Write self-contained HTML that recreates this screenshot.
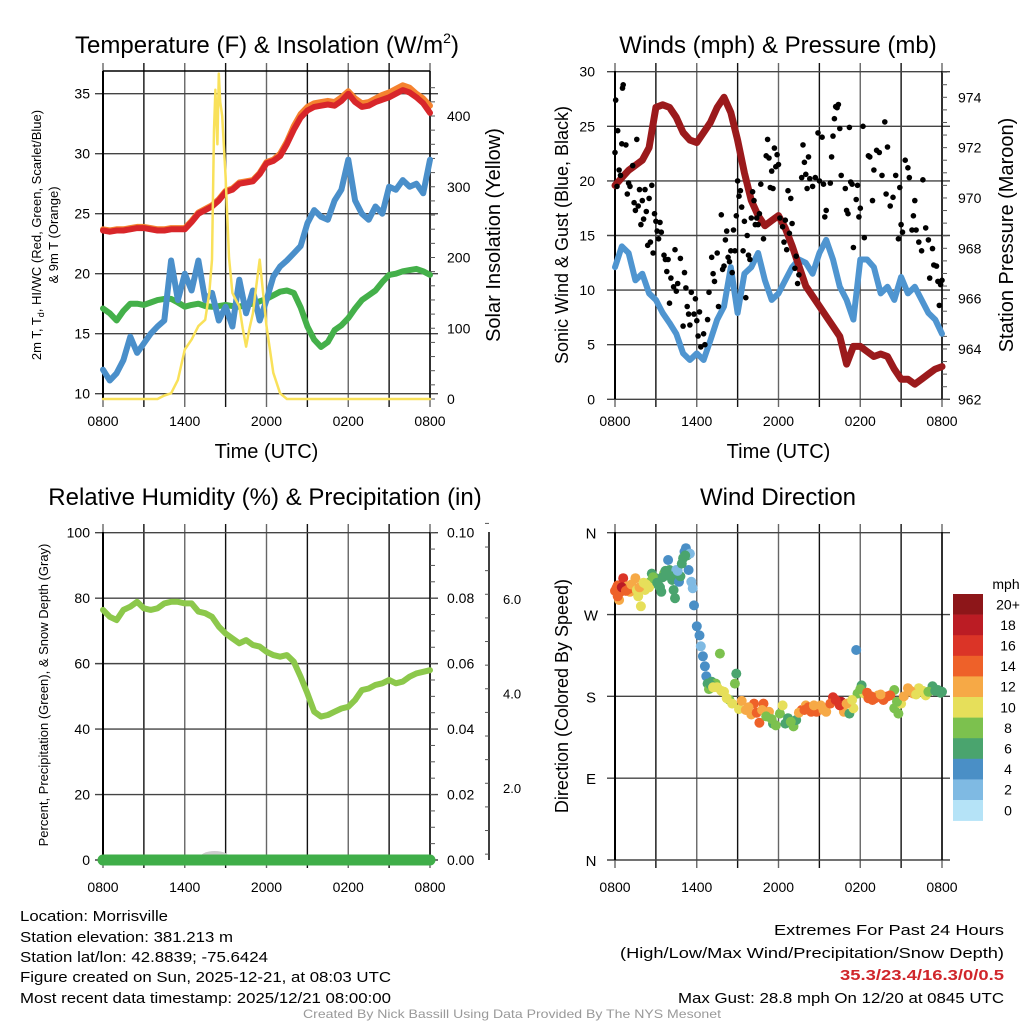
<!DOCTYPE html>
<html><head><meta charset="utf-8"><style>
html,body{margin:0;padding:0;background:#fff;}
svg{display:block;font-family:"Liberation Sans",Arial,sans-serif;}
</style></head><body>
<svg id="fig" width="1024" height="1024" viewBox="0 0 1024 1024" xmlns="http://www.w3.org/2000/svg">
<rect width="1024" height="1024" fill="#fff"/>
<g id="p1"></g>
<g id="p2"></g>
<g id="p3"></g>
<g id="p4"></g>
<g font-size="15" fill="#000">
<text x="20" y="921" textLength="148" lengthAdjust="spacingAndGlyphs">Location: Morrisville</text>
<text x="20" y="942" textLength="213" lengthAdjust="spacingAndGlyphs">Station elevation: 381.213 m</text>
<text x="20" y="962" textLength="248" lengthAdjust="spacingAndGlyphs">Station lat/lon: 42.8839; -75.6424</text>
<text x="20" y="982" textLength="371" lengthAdjust="spacingAndGlyphs">Figure created on Sun, 2025-12-21, at 08:03 UTC</text>
<text x="20" y="1003" textLength="371" lengthAdjust="spacingAndGlyphs">Most recent data timestamp: 2025/12/21 08:00:00</text>
</g>
<g font-size="15" text-anchor="end">
<text x="1004" y="935" textLength="230" lengthAdjust="spacingAndGlyphs">Extremes For Past 24 Hours</text>
<text x="1004" y="958" textLength="384" lengthAdjust="spacingAndGlyphs">(High/Low/Max Wind/Precipitation/Snow Depth)</text>
<text x="1004" y="980" font-weight="bold" fill="#d0262b" textLength="164" lengthAdjust="spacingAndGlyphs">35.3/23.4/16.3/0/0.5</text>
<text x="1004" y="1003" textLength="326" lengthAdjust="spacingAndGlyphs">Max Gust: 28.8 mph On 12/20 at 0845 UTC</text>
</g>
<text x="512" y="1018" font-size="12" fill="#999" text-anchor="middle" textLength="418" lengthAdjust="spacingAndGlyphs">Created By Nick Bassill Using Data Provided By The NYS Mesonet</text>
</svg>
<script>
// ---------- data ----------
var hh = [0,0.5,1,1.5,2,2.5,3,3.5,4,4.5,5,5.5,6,6.5,7,7.5,8,8.5,9,9.5,10,10.5,11,11.5,12,12.5,13,13.5,14,14.5,15,15.5,16,16.5,17,17.5,18,18.5,19,19.5,20,20.5,21,21.5,22,22.5,23,23.5,24];
var timeLabels = ["0800","1400","2000","0200","0800"];
var tempT = [23.6,23.5,23.6,23.6,23.7,23.8,23.8,23.7,23.6,23.6,23.7,23.7,23.7,24.3,25.0,25.3,25.6,26.1,26.8,27.0,27.5,27.6,27.7,28.3,29.2,29.4,29.8,30.8,32.0,33.0,33.6,33.9,34.0,34.1,34.0,34.4,35.0,34.3,33.9,34.0,34.3,34.5,34.7,35.0,35.3,35.1,34.7,34.2,33.4];
var temp9m = [23.7,23.6,23.7,23.7,23.8,23.9,23.9,23.8,23.7,23.7,23.8,23.8,23.8,24.4,25.1,25.4,25.7,26.2,26.9,27.1,27.6,27.7,27.8,28.4,29.3,29.5,30.0,31.0,32.3,33.3,33.9,34.2,34.3,34.4,34.3,34.7,35.2,34.6,34.2,34.3,34.6,34.9,35.1,35.4,35.7,35.5,35.0,34.6,34.0];
var dewT = [17.1,16.7,16.1,16.9,17.5,17.5,17.4,17.6,17.8,17.9,17.9,17.6,17.25,17.4,17.5,17.3,17.25,17.3,17.4,17.3,17.25,17.4,17.5,17.7,17.9,18.2,18.5,18.6,18.4,17.2,15.6,14.5,13.9,14.3,15.3,15.7,16.3,17.1,17.8,18.2,18.6,19.3,19.9,20.0,20.2,20.3,20.4,20.2,19.9];
var windChill = [12.0,11.1,11.7,12.8,14.75,13.4,14.2,15.0,15.6,16.1,21.1,17.8,20.0,18.6,21.1,17.8,18.4,16.1,17.25,15.6,19.5,16.7,18.6,16.1,17.8,19.75,20.6,21.1,21.7,22.3,24.2,25.3,24.75,24.5,26.1,27.0,29.5,26.1,25.0,24.5,25.6,25.0,27.25,27.0,27.8,27.25,27.5,26.7,29.5];
var solarHours = [0,4,4.5,5,5.5,6,6.5,7,7.5,7.8,8,8.15,8.25,8.4,8.5,8.6,8.75,9,9.25,9.5,9.75,10,10.25,10.5,10.75,11,11.25,11.5,11.75,12,12.5,13,13.5,24];
var solar = [0,0,5,8,27,70,84,103,112,150,197,380,437,360,460,420,400,314,200,150,140,131,100,74,100,121,160,197,150,103,37,8,0,0];
var pressure = [970.5,970.8,971.1,971.3,971.5,972.0,973.6,973.7,973.6,973.2,972.6,972.3,972.2,972.6,973.0,973.6,974.0,973.4,972.3,971.0,969.9,969.3,968.9,969.1,969.3,968.8,968.1,967.3,966.5,966.1,965.7,965.3,964.9,964.5,963.4,964.1,964.1,963.9,963.7,963.8,963.7,963.2,962.8,962.8,962.6,962.8,963.0,963.2,963.3];
var windSpeed = [12.1,14.0,13.4,10.9,11.5,9.7,9.1,7.9,7.0,6.0,4.2,3.6,4.2,3.6,5.4,7.3,8.5,12.1,7.9,11.5,12.1,13.4,10.9,9.1,9.7,10.9,12.1,12.8,12.5,11.5,13.4,14.6,12.8,10.3,9.1,7.3,12.8,12.8,12.1,9.7,10.3,9.1,11.2,9.7,10.3,9.1,7.9,7.3,6.0];
var gustHours = [0,0.05,0.15,0.2,0.3,0.4,0.5,0.55,0.6,0.8,0.9,1.0,1.1,1.3,1.4,1.5,1.6,1.7,1.8,1.9,2.0,2.1,2.2,2.3,2.4,2.5,2.6,2.7,2.8,2.9,3.0,3.1,3.2,3.3,3.4,3.6,3.7,3.8,3.9,4.0,4.1,4.3,4.4,4.5,4.6,4.8,5.0,5.1,5.2,5.3,5.4,5.5,5.6,5.8,5.9,6.0,6.1,6.2,6.3,6.5,6.6,6.8,6.9,7.1,7.2,7.3,7.5,7.6,7.8,7.9,8.0,8.1,8.2,8.3,8.4,8.5,8.6,8.7,8.8,8.9,9.0,9.1,9.2,9.3,9.4,9.5,9.6,9.7,9.8,9.9,10.0,10.1,10.2,10.3,10.4,10.5,10.6,10.7,10.9,11.1,11.2,11.3,11.4,11.5,11.6,11.7,11.8,11.9,12.0,12.1,12.3,12.4,12.5,12.6,12.7,12.8,12.9,13.0,13.2,13.3,13.4,13.5,13.7,13.8,13.9,14.0,14.1,14.2,14.3,14.5,14.7,14.9,15.0,15.2,15.3,15.4,15.5,15.8,15.9,16.0,16.1,16.2,16.3,16.4,16.5,16.6,16.9,17.0,17.1,17.2,17.3,17.4,17.5,17.7,17.8,17.9,18.0,18.2,18.3,18.6,18.7,18.9,19.0,19.2,19.4,19.6,19.8,19.9,20.0,20.2,20.4,20.6,20.8,20.9,21.0,21.1,21.3,21.5,21.6,21.8,21.9,22.0,22.1,22.3,22.5,22.6,22.8,23.0,23.1,23.3,23.4,23.6,23.7,23.8,23.9,24.0];
var gust = [22.6,27.4,19.5,24.6,21,20.5,23.4,28.5,28.8,23.3,18.8,19.8,19.5,21.4,18,17.3,23.8,17.7,19.2,16,18.2,16.5,19.2,17.2,14.1,18.4,14.4,19.6,13.4,17,16.3,15.4,14.7,16.2,15.3,13.2,12.8,11.7,12.8,8.8,11.1,10.3,13.7,9.9,10.6,12.9,6.7,11.6,10.2,8.5,7.8,6.8,9.8,7.8,9.2,7.2,5.8,8.0,4.8,6.0,5.0,7.3,9.8,13.0,11.5,10.8,13.4,8.5,16.9,11.9,12.2,14.6,15.4,13.0,12.6,13.6,11.6,15.5,13.6,16.8,20.0,18.6,19.1,17.6,13.6,16.3,9.3,15.0,13.2,12.8,16.6,19.0,18.2,16.0,16.6,16.0,17.0,19.7,14.7,22.3,23.8,22.1,19.4,20.9,19.3,23.0,21.3,22.4,21.5,16.6,15.8,14.4,16.4,13.7,19.1,15.2,18.4,16.1,12.0,13.1,10.6,11.4,20.3,23.3,21.7,20.6,19.3,22.2,20.2,19.5,20.3,24.4,20.0,24.0,19.7,16.7,17.3,19.8,22.2,24.1,25.7,26.8,26.7,27.0,24.8,20.5,19.3,17.3,17.0,24.9,19.9,19.7,13.9,18.3,19.6,16.7,17.5,25.0,14.8,22.3,22.2,18.2,21.0,22.8,22.6,20.5,25.4,18.8,23.1,17.7,18.5,20.5,14.7,19.4,16.0,15.3,21.9,21.2,20.3,15.5,16.8,18.2,15.5,14.4,13.6,20.1,15.7,14.6,11.1,13.8,12.3,12.2,10.8,8.6,10.5,10.9];
var rh = [76.4,74.3,73.3,76.4,77.4,78.9,76.9,76.4,76.9,78.4,78.9,78.9,78.4,78.4,75.9,75.4,74.3,71.3,69.2,67.7,66.2,67.2,65.7,65.2,63.6,62.6,62.1,62.6,60.6,56.0,50.9,45.3,43.8,44.3,45.3,46.3,46.8,48.9,51.9,52.4,53.5,54.0,55.0,54.0,54.5,56.0,57.0,57.5,58.0];
var precip = [0,0,0,0,0,0,0,0,0,0,0,0,0,0,0,0,0,0,0,0,0,0,0,0,0,0,0,0,0,0,0,0,0,0,0,0,0,0,0,0,0,0,0,0,0,0,0,0,0];
var dirHours = [0.0,0.1,0.2,0.3,0.4,0.6,0.7,0.9,1.1,1.3,1.5,1.7,1.9,2.0,2.2,2.4,2.6,2.7,3.0,3.2,3.4,3.6,3.8,3.9,4.0,4.2,4.3,4.4,4.5,4.7,4.8,5.0,5.1,5.2,5.3,5.4,5.5,5.6,5.7,5.8,6.0,6.2,6.3,6.45,6.6,6.7,6.8,7.1,7.4,7.7,8.0,8.4,8.8,8.9,9.1,9.6,10.2,10.6,10.9,11.3,11.6,12.1,12.3,12.7,13.1,13.3,13.7,14.0,14.4,14.8,15.1,15.5,16.0,16.4,16.6,16.8,17.2,17.5,17.7,17.8,18.1,18.3,18.6,18.9,19.3,19.7,20.0,20.5,20.5,20.8,21.0,21.5,21.9,22.3,22.8,23.3,23.7,24.0,
 0.2,0.5,0.8,1.0,1.2,1.6,1.8,2.1,2.3,2.5,2.8,3.1,3.3,3.5,3.7,4.1,4.6,4.9,5.15,6.9,7.0,7.2,7.5,7.8,8.2,8.6,9.3,9.8,10.0,10.4,10.8,11.1,11.5,11.8,12.5,12.9,13.5,13.9,14.2,14.6,15.3,15.8,16.2,16.5,17.0,17.4,18.0,18.5,18.8,19.1,19.5,20.2,20.7,21.2,21.7,22.1,22.6,23.0,23.5,23.9];
var dirDeg = [296,299,302,286,295,310,297,301,295,299,310,290,279,302,297,304,306,315,310,302,295,315,313,330,319,308,297,288,319,306,312,332,339,343,335,319,337,306,299,280,257,247,235,224,213,202,194,196,194,227,185,176,194,205,166,165,172,151,172,163,150,161,170,156,147,154,165,170,163,163,170,163,179,174,174,163,161,167,231,183,192,183,178,176,181,176,180,187,167,161,172,189,183,189,181,191,187,185,
 290,300,296,298,303,297,300,305,303,300,311,305,300,311,318,312,318,326,335,188,193,190,190,186,178,172,175,168,160,162,165,158,155,148,150,152,162,165,168,170,165,172,176,170,172,176,188,184,180,178,182,181,174,180,186,182,186,185,186,184];
var dirSpeed = [14,14,15,13,14,17,15,13,13,13,12,10,10,12,11,11,8,7,6,7,6,8,6,4,6,6,7,6,2,4,6,7,4,4,7,4,2,2,2,4,4,4,2,4,4,4,6,6,8,8,10,8,8,6,10,12,14,14,14,12,7,8,10,6,8,7,14,13,14,14,12,13,17,15,18,13,6,10,4,8,7,10,14,15,12,14,14,8,8,8,10,13,12,10,10,6,6,6,
 14,18,14,15,12,11,12,10,10,10,8,6,7,6,6,7,2,6,6,8,6,10,10,10,11,10,12,13,12,14,12,8,8,8,7,8,12,14,15,13,12,14,16,17,12,10,8,14,15,14,13,14,8,12,12,11,10,8,7,6];
var speedBins = ["0","2","4","6","8","10","12","14","16","18","20+"];
var speedColors = ["#b5e3f7","#7fbae3","#4a8fc6","#4aa46e","#7cc14e","#e6df5a","#f6a946","#ee6129","#db3427","#bb1c24","#8d1619"];

// ---------- helpers ----------
var NS = "http://www.w3.org/2000/svg";
function mk(parent, tag, attrs, txt) {
  var e = document.createElementNS(NS, tag);
  for (var k in attrs) e.setAttribute(k, attrs[k]);
  if (txt !== undefined) e.textContent = txt;
  parent.appendChild(e);
  return e;
}
function xMap(x0, x1) { return function(h) { return x0 + (x1 - x0) * h / 24; }; }
function yMap(y0, y1, v0, v1) { return function(v) { return y0 + (y1 - y0) * (v - v0) / (v1 - v0); }; }
function pathD(xs, ys, X, Y) {
  var d = "";
  for (var i = 0; i < xs.length; i++) d += (i ? "L" : "M") + X(xs[i]).toFixed(1) + "," + Y(ys[i]).toFixed(1);
  return d;
}
function grid(g, X, x0, x1, yTop, yBot, Y, yTicks) {
  for (var h = 0; h <= 24; h += 3) {
    var l = mk(g, "line", {x1: X(h), x2: X(h), y1: yTop - 8, y2: yBot + 8, stroke: (h % 6 ? "#111" : "#666"), "stroke-width": 1.4});
    
    
  }
  yTicks.forEach(function(v) {
    var l = mk(g, "line", {x1: x0 - 8, x2: x1 + 8, y1: Y(v), y2: Y(v), stroke: "#444", "stroke-width": 1.4});
    
    
  });
  var b = mk(g, "line", {x1: x0, x2: x0, y1: yTop, y2: yBot, stroke: "#000", "stroke-width": 2});
  
  
  var r = mk(g, "line", {x1: x1, x2: x1, y1: yTop, y2: yBot, stroke: "#000", "stroke-width": 1.5});
  
  
}
function timeAxis(g, X, y, big) {
  for (var i = 0; i < timeLabels.length; i++) {
    var t = mk(g, "text", {x: X(i * 6), y: y, "font-size": 14, "text-anchor": "middle"}, timeLabels[i]);
    
    
  }
  if (big) {
    var tt = mk(g, "text", {x: (X(0) + X(24)) / 2, y: big, "font-size": 20, "text-anchor": "middle"}, "Time (UTC)");
    
    
  }
}
function yLabels(g, x, anchor, Y, vals, fmt, fs) {
  vals.forEach(function(v) {
    var t = mk(g, "text", {x: x, y: Y(v) + 5, "font-size": fs || 14, "text-anchor": anchor}, fmt ? fmt(v) : String(v));
    
    
  });
}
function minorTicks(g, x, Y, v0, v1, step, len) {
  for (var v = v0; v <= v1 + 1e-9; v += step) {
    var l = mk(g, "line", {x1: x, x2: x + len, y1: Y(v), y2: Y(v), stroke: "#555", "stroke-width": 1});
    
    
  }
}
function title(g, x, y, txt, sup) {
  var t = mk(g, "text", {x: x, y: y, "font-size": 24, "text-anchor": "middle"}, txt);
  if (sup) {
    mk(t, "tspan", {"font-size": 14, dy: -10}, "2");
    mk(t, "tspan", {dy: 10}, ")");
  }
  
  
}
function vtext(g, x, y, txt, fs, name) {
  var t = mk(g, "text", {x: x, y: y, "font-size": fs, "text-anchor": "middle", transform: "rotate(-90 " + x + " " + y + ")"}, txt);
  
  
  return t;
}
function line(g, xs, ys, X, Y, color, w, name) {
  var p = mk(g, "path", {d: pathD(xs, ys, X, Y), fill: "none", stroke: color, "stroke-width": w, "stroke-linejoin": "round", "stroke-linecap": "round"});
  
  
}

// ---------- panel 1 ----------
(function() {
  var g = document.getElementById("p1");
  var X = xMap(103, 430);
  var Y = yMap(393.7, 93.7, 10, 35);
  var YS = yMap(399, 116, 0, 400);
  grid(g, X, 103, 430, 71, 399, Y, [10, 15, 20, 25, 30, 35]);
  mk(g, "line", {x1: 103, x2: 430, y1: 71, y2: 71, stroke: "#000", "stroke-width": 1.5});
  minorTicks(g, 430, YS, 0, 440, 20, 5);
  line(g, hh, temp9m, X, Y, "#f5822f", 6, "9m-temp-line");
  line(g, hh, tempT, X, Y, "#d8262a", 6, "2m-temp-line");
  line(g, hh, dewT, X, Y, "#44b04a", 6, "dewpoint-line");
  line(g, hh, windChill, X, Y, "#4a8fca", 6, "wind-chill-line");
  line(g, solarHours, solar, X, YS, "#f9e15a", 2.5, "solar-insolation-line");
  yLabels(g, 90, "end", Y, [10, 15, 20, 25, 30, 35]);
  yLabels(g, 447, "start", YS, [0, 100, 200, 300, 400]);
  timeAxis(g, X, 426, 458);
  title(g, 267, 53, "Temperature (F) & Insolation (W/m", true);
  var t = vtext(g, 41, 235, "", 13, "left-y-axis-title");
  t.textContent = "2m T, T";
  mk(t, "tspan", {"font-size": 9, dy: 3}, "d");
  mk(t, "tspan", {dy: -3}, ", HI/WC (Red, Green, Scarlet/Blue)");
  vtext(g, 58, 235, "& 9m T (Orange)", 13, "left-y-axis-title-line2");
  vtext(g, 500, 235, "Solar Insolation (Yellow)", 20, "right-y-axis-title");
})();

// ---------- panel 2 ----------
(function() {
  var g = document.getElementById("p2");
  var X = xMap(615, 942);
  var Y = yMap(399.3, 71.7, 0, 30);
  var YP = yMap(399.3, 97.3, 962, 974);
  grid(g, X, 615, 942, 71, 399, Y, [0, 5, 10, 15, 20, 25, 30]);
  minorTicks(g, 942, YP, 962, 975, 0.5, 5);
  line(g, hh, windSpeed, X, Y, "#4f95d0", 6, "sonic-wind-line");
  line(g, hh, pressure, X, YP, "#9b1a1c", 7, "pressure-line");
  for (var i = 0; i < gust.length; i++) {
    var c = mk(g, "circle", {cx: X(gustHours[i]).toFixed(1), cy: Y(gust[i]).toFixed(1), r: 2.8, fill: "#000"});
    
    
  }
  yLabels(g, 595, "end", Y, [0, 5, 10, 15, 20, 25, 30]);
  yLabels(g, 958, "start", YP, [962, 964, 966, 968, 970, 972, 974]);
  timeAxis(g, X, 426, 458);
  title(g, 778, 53, "Winds (mph) & Pressure (mb)");
  vtext(g, 568, 235, "Sonic Wind & Gust (Blue, Black)", 18, "left-y-axis-title");
  vtext(g, 1013, 235, "Station Pressure (Maroon)", 20, "right-y-axis-title");
})();

// ---------- panel 3 ----------
(function() {
  var g = document.getElementById("p3");
  var X = xMap(103, 430);
  var Y = yMap(860, 532.7, 0, 100);
  var YP = yMap(860, 532.7, 0, 0.1);
  var YSn = yMap(788, 599, 2, 6);
  grid(g, X, 103, 430, 532, 860, Y, [0, 20, 40, 60, 80, 100]);
  minorTicks(g, 430, Y, 0, 100, 5, 5);
  mk(g, "line", {x1: 489, x2: 489, y1: 532, y2: 860, stroke: "#000", "stroke-width": 1.5});
  minorTicks(g, 489, YSn, 0.6, 7.6, 0.5, -4);
  line(g, hh, rh, X, Y, "#8cc84b", 6, "relative-humidity-line");
  var b = mk(g, "ellipse", {cx: X(8.2), cy: 858, rx: 15, ry: 7, fill: "#ccc"});
  
  
  line(g, hh, precip, X, YP, "#3fae49", 11, "precipitation-line");
  yLabels(g, 90, "end", Y, [0, 20, 40, 60, 80, 100]);
  yLabels(g, 447, "start", YP, [0, 0.02, 0.04, 0.06, 0.08, 0.1], function(v) { return v.toFixed(2); });
  yLabels(g, 503, "start", YSn, [2, 4, 6], function(v) { return v.toFixed(1); }, 13);
  timeAxis(g, X, 892);
  title(g, 265, 505, "Relative Humidity (%) & Precipitation (in)");
  vtext(g, 48, 695, "Percent, Precipitation (Green), & Snow Depth (Gray)", 13, "left-y-axis-title");
})();

// ---------- panel 4 ----------
(function() {
  var g = document.getElementById("p4");
  var X = xMap(615, 942);
  var Y = yMap(860, 532.7, 0, 360);
  grid(g, X, 615, 942, 532, 860, Y, [0, 90, 180, 270, 360]);
  var lbl = ["N", "E", "S", "W", "N"];
  [0, 90, 180, 270, 360].forEach(function(v, i) {
    var t = mk(g, "text", {x: 591, y: Y(v) + 6, "font-size": 15, "text-anchor": "middle"}, lbl[i]);
    
    
  });
  for (var i = 0; i < dirDeg.length; i++) {
    var bin = Math.min(10, Math.floor(dirSpeed[i] / 2));
    var c = mk(g, "circle", {cx: X(dirHours[i]).toFixed(1), cy: Y(dirDeg[i]).toFixed(1), r: 5, fill: speedColors[bin]});
    
    
  }
  timeAxis(g, X, 892);
  title(g, 778, 505, "Wind Direction");
  vtext(g, 568, 696, "Direction (Colored By Speed)", 18, "left-y-axis-title");
  var cb = mk(g, "g", {});
  
  
  var t0 = mk(cb, "text", {x: 1006, y: 589, "font-size": 14, "text-anchor": "middle"}, "mph");
  
  
  var top = 594, h = 20.6;
  for (var k = 0; k < speedBins.length; k++) {
    var idx = speedBins.length - 1 - k;
    var r = mk(cb, "rect", {x: 953, y: top + k * h, width: 30, height: h + 0.3, fill: speedColors[idx]});
    
    
    var tx = mk(cb, "text", {x: 1008, y: top + k * h + h / 2 + 5, "font-size": 14, "text-anchor": "middle"}, speedBins[idx]);
    
    
  }
})();
</script>
</body></html>
